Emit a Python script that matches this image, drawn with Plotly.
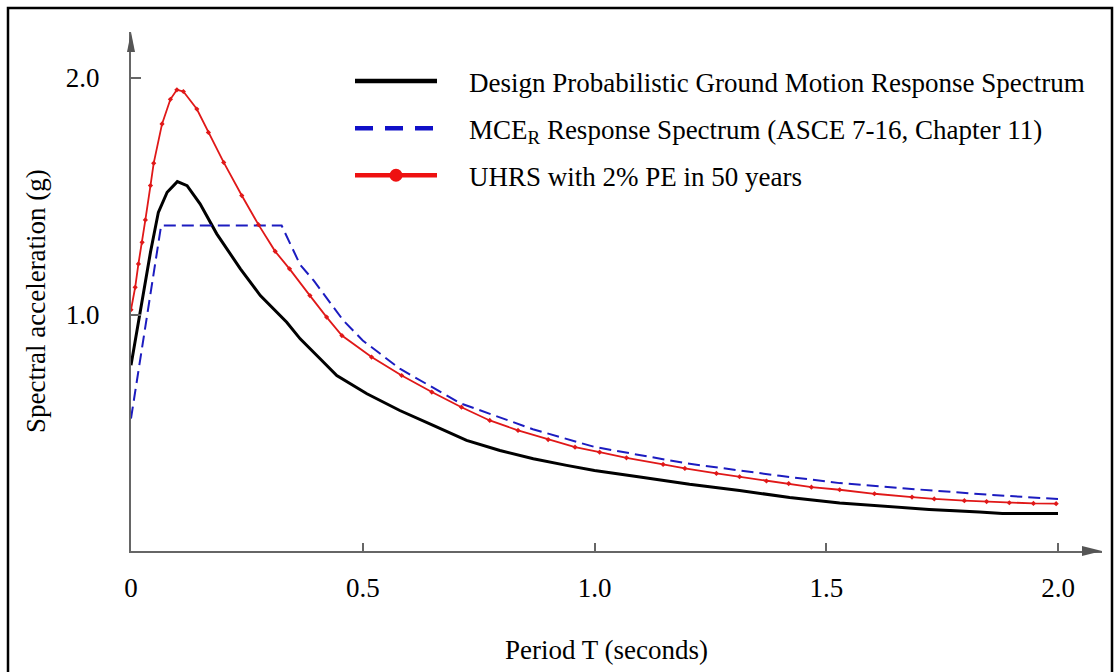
import plotly.graph_objects as go

# ---- data ----
T_design = [0, 0.02, 0.042, 0.059, 0.078, 0.1, 0.121, 0.149, 0.185, 0.236, 0.279, 0.336, 0.365,
            0.408, 0.444, 0.509, 0.58, 0.652, 0.724, 0.796, 0.868, 0.94, 1.0, 1.098, 1.205,
            1.313, 1.421, 1.529, 1.615, 1.722, 1.83, 1.88, 2.0]
Sa_design = [0.785, 1.02, 1.263, 1.432, 1.517, 1.562, 1.545, 1.468, 1.341, 1.193, 1.080, 0.967, 0.897,
             0.813, 0.742, 0.665, 0.594, 0.531, 0.468, 0.425, 0.390, 0.362, 0.340, 0.313, 0.282,
             0.256, 0.226, 0.203, 0.190, 0.176, 0.165, 0.159, 0.159]

T_mce = [0, 0.065, 0.325, 0.365, 0.394, 0.458, 0.5, 0.58, 0.71, 0.867, 1.0, 1.2, 1.4, 1.529,
         1.7, 1.85, 2.0]
Sa_mce = [0.56, 1.376, 1.376, 1.21, 1.144, 0.975, 0.89, 0.771, 0.625, 0.515, 0.44, 0.37, 0.318,
          0.287, 0.26, 0.238, 0.220]

T_uhrs = [0, 0.009, 0.016, 0.024, 0.031, 0.042, 0.049, 0.067, 0.085, 0.099, 0.113, 0.142, 0.167,
          0.2, 0.239, 0.275, 0.311, 0.342, 0.386, 0.422, 0.455, 0.519, 0.584, 0.649, 0.713,
          0.774, 0.835, 0.9, 0.958, 1.011, 1.069, 1.148, 1.195, 1.263, 1.313, 1.371, 1.419,
          1.468, 1.529, 1.604, 1.685, 1.733, 1.798, 1.846, 1.895, 1.947, 1.996]
Sa_uhrs = [1.02, 1.115, 1.214, 1.305, 1.40, 1.545, 1.64, 1.806, 1.91, 1.95, 1.943, 1.869, 1.77,
           1.643, 1.503, 1.38, 1.267, 1.193, 1.080, 0.989, 0.911, 0.820, 0.742, 0.672, 0.608,
           0.552, 0.510, 0.471, 0.439, 0.418, 0.394, 0.366, 0.349, 0.328, 0.314, 0.296, 0.285,
           0.270, 0.259, 0.242, 0.228, 0.220, 0.213, 0.209, 0.204, 0.201, 0.200]

x_tickvals = [0, 0.5, 1.0, 1.5, 2.0]
x_ticktext = ["0", "0.5", "1.0", "1.5", "2.0"]
y_tickvals = [1.0, 2.0]
y_ticktext = ["1.0", "2.0"]

PAD = "\u00a0\u00a0\u00a0\u00a0"
name_design = PAD + "Design Probabilistic Ground Motion Response Spectrum"
name_mce = PAD + "MCE<sub>R</sub> Response Spectrum (ASCE 7-16, Chapter 11)"
name_uhrs = PAD + "UHRS with 2% PE in 50 years"

FONT = "Liberation Serif, Times New Roman, serif"
FS = 27
AX = "#666666"
BLUE = "#1c1cc0"
RED = "#e01818"

fig = go.Figure()

# plotted curves (legend handled by separate keys)
fig.add_trace(go.Scatter(x=T_design, y=Sa_design, mode="lines", showlegend=False,
                         line=dict(color="black", width=3)))
fig.add_trace(go.Scatter(x=T_mce, y=Sa_mce, mode="lines", showlegend=False,
                         line=dict(color=BLUE, width=2, dash="12px,6px")))
fig.add_trace(go.Scatter(x=T_uhrs, y=Sa_uhrs, mode="lines+markers", showlegend=False,
                         line=dict(color=RED, width=1.8),
                         marker=dict(color=RED, size=4, symbol="diamond")))

# legend keys
fig.add_trace(go.Scatter(x=[None], y=[None], mode="lines", name=name_design, legendgroup="a",
                         line=dict(color="black", width=4.5)))
fig.add_trace(go.Scatter(x=[None], y=[None], mode="lines", name=name_mce, legendgroup="b",
                         line=dict(color="#1010c8", width=4.5, dash="18px,12px")))
fig.add_trace(go.Scatter(x=[None], y=[None], mode="lines+markers", name=name_uhrs, legendgroup="c",
                         line=dict(color="#ee1111", width=4.5),
                         marker=dict(color="#ee1111", size=13)))

L, R, TOP, B = 131, 12, 32, 121
W, H = 1114, 672
pw, ph = W - L - R, H - TOP - B
xmax = pw / 463.5
ymax = ph / 236.5

def px2paper_x(px):
    return (px - L) / pw

def py2paper_y(py):
    return (H - B - py) / ph

fig.update_layout(
    width=W, height=H,
    margin=dict(l=L, r=R, t=TOP, b=B),
    paper_bgcolor="white", plot_bgcolor="white",
    font=dict(family=FONT, size=FS, color="black"),
    xaxis=dict(range=[0, xmax], tickvals=x_tickvals, ticktext=x_ticktext,
               ticks="inside", ticklen=8, tickwidth=2, tickcolor=AX,
               showline=True, linecolor=AX, linewidth=2, showgrid=False, zeroline=False,
               tickfont=dict(family=FONT, size=FS, color="black"), ticklabelstandoff=12),
    xaxis2=dict(range=[0, xmax], overlaying="x", anchor="y", side="bottom",
                tickvals=x_tickvals[1:], ticks="outside", ticklen=5, tickwidth=2, tickcolor=AX,
                showticklabels=False, showline=False, showgrid=False, zeroline=False),
    yaxis=dict(range=[0, ymax], tickvals=y_tickvals, ticktext=y_ticktext,
               ticks="inside", ticklen=10, tickwidth=2, tickcolor=AX,
               showline=True, linecolor=AX, linewidth=2, showgrid=False, zeroline=False,
               tickfont=dict(family=FONT, size=FS, color="black"), ticklabelstandoff=24),
    yaxis2=dict(range=[0, ymax], overlaying="y", anchor="x", side="left",
                tickvals=y_tickvals, ticks="outside", ticklen=7, tickwidth=2, tickcolor=AX,
                showticklabels=False, showline=False, showgrid=False, zeroline=False),
    legend=dict(x=px2paper_x(350), y=py2paper_y(57), xanchor="left", yanchor="top",
                bgcolor="rgba(0,0,0,0)", borderwidth=0, itemwidth=82,
                tracegroupgap=9, traceorder="grouped",
                font=dict(family=FONT, size=FS, color="black")),
    showlegend=True,
)

# axis titles
fig.add_annotation(text="Spectral acceleration (g)", xref="paper", yref="paper",
                   x=px2paper_x(36), y=py2paper_y(301), textangle=-90, showarrow=False,
                   xanchor="center", yanchor="middle",
                   font=dict(family=FONT, size=FS, color="black"))
fig.add_annotation(text="Period T (seconds)", xref="paper", yref="paper",
                   x=px2paper_x(606), y=py2paper_y(650), showarrow=False,
                   xanchor="center", yanchor="middle",
                   font=dict(family=FONT, size=FS, color="black"))

# arrowheads at the ends of the axes (paper-referenced so they are not clipped)
fig.add_shape(type="path", xref="paper", yref="paper", xsizemode="pixel", ysizemode="pixel",
              xanchor=1.0, yanchor=0.0, path="M-20,-5 L0,0 L-20,5 Z",
              fillcolor="#555555", line=dict(width=0))
fig.add_shape(type="path", xref="paper", yref="paper", xsizemode="pixel", ysizemode="pixel",
              xanchor=0.0, yanchor=1.0, path="M-4,-20 L0,0 L4,-20 Z",
              fillcolor="#555555", line=dict(width=0))

# outer frame
fig.add_shape(type="rect", xref="paper", yref="paper",
              x0=px2paper_x(8), x1=px2paper_x(1112), y0=py2paper_y(700), y1=py2paper_y(8),
              line=dict(color="black", width=2.5), fillcolor="rgba(0,0,0,0)", layer="below")

fig.write_html("out.html", config={"displayModeBar": False},
               post_script="document.body.style.margin='0';")
